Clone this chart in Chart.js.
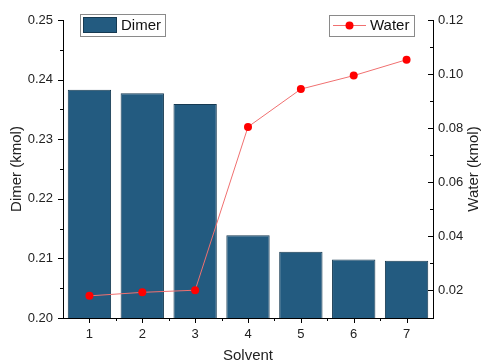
<!DOCTYPE html>
<html>
<head>
<meta charset="utf-8">
<script src="https://cdn.jsdelivr.net/npm/chart.js@4.4.1/dist/chart.umd.min.js"></script>
<style>
html,body{margin:0;padding:0;background:#fff;}
#wrap{width:483px;height:364px;position:relative;}
</style>
</head>
<body>
<div id="wrap"><canvas id="c" width="483" height="364"></canvas></div>
<script>
const categories = ['1','2','3','4','5','6','7'];
const dimer = [0.2383, 0.2377, 0.2359, 0.2139, 0.2111, 0.2098, 0.2096];
const water = [0.0178, 0.0191, 0.0199, 0.0804, 0.0944, 0.0994, 0.1053];
const leftTicks = [0.20, 0.21, 0.22, 0.23, 0.24, 0.25];
const rightTicks = [0.02, 0.04, 0.06, 0.08, 0.10, 0.12];

const FONT = '"Liberation Sans", Arial, sans-serif';
const BAR = '#235b80';
const BAR_EDGE = '#163a52';

function seg(ctx, x1, y1, x2, y2){ ctx.beginPath(); ctx.moveTo(x1,y1); ctx.lineTo(x2,y2); ctx.stroke(); }

const decor = {
  id: 'decor',
  afterDraw(chart){
    const ctx = chart.ctx, a = chart.chartArea;
    const {x, y, y1} = chart.scales;
    ctx.save();
    ctx.strokeStyle = '#000'; ctx.lineWidth = 1;
    // left ticks (outward)
    for (let i = 0; i < leftTicks.length; i++){
      const py = Math.round(y.getPixelForValue(leftTicks[i])) + 0.5;
      seg(ctx, a.left - 5, py, a.left, py);
      if (i < leftTicks.length - 1){
        const pm = Math.round(y.getPixelForValue((leftTicks[i] + leftTicks[i+1]) / 2)) + 0.5;
        seg(ctx, a.left - 3, pm, a.left, pm);
      }
    }
    // right ticks (inward)
    for (let i = 0; i < rightTicks.length; i++){
      const py = Math.round(y1.getPixelForValue(rightTicks[i])) + 0.5;
      seg(ctx, a.right - 5, py, a.right, py);
    }
    for (let i = 0; i < rightTicks.length - 1; i++){
      const pm = Math.round(y1.getPixelForValue((rightTicks[i] + rightTicks[i+1]) / 2)) + 0.5;
      seg(ctx, a.right - 3, pm, a.right, pm);
    }
    // bottom ticks (outward)
    for (let i = 0; i < categories.length; i++){
      const px = Math.round(x.getPixelForValue(i)) + 0.5;
      seg(ctx, px, a.bottom, px, a.bottom + 5);
      if (i < categories.length - 1){
        const pm = Math.round(x.getPixelForValue(i + 0.5)) + 0.5;
        seg(ctx, pm, a.bottom, pm, a.bottom + 3);
      }
    }
    // axis titles
    ctx.fillStyle = '#222';
    ctx.font = '15px ' + FONT;
    ctx.textAlign = 'center'; ctx.textBaseline = 'middle';
    ctx.fillText('Solvent', (a.left + a.right) / 2, 356);
    ctx.save(); ctx.translate(17, (a.top + a.bottom) / 2); ctx.rotate(-Math.PI/2);
    ctx.fillText('Dimer (kmol)', 0, 0); ctx.restore();
    ctx.save(); ctx.translate(474, (a.top + a.bottom) / 2); ctx.rotate(-Math.PI/2);
    ctx.fillText('Water (kmol)', 0, 0); ctx.restore();

    // legends
    ctx.lineWidth = 1;
    ctx.strokeStyle = '#8a8a8a';
    ctx.fillStyle = '#fff';
    // Dimer
    ctx.fillRect(80, 14, 85, 22);
    ctx.strokeRect(80.5, 14.5, 85, 22);
    ctx.fillStyle = BAR; ctx.fillRect(83, 17, 34, 16);
    ctx.strokeStyle = BAR_EDGE; ctx.strokeRect(83.5, 17.5, 33, 15);
    ctx.fillStyle = '#111'; ctx.textAlign = 'left';
    ctx.font = '15px ' + FONT;
    ctx.fillText('Dimer', 121, 26);
    // Water
    ctx.strokeStyle = '#8a8a8a'; ctx.fillStyle = '#fff';
    ctx.fillRect(329, 15, 85, 21);
    ctx.strokeRect(329.5, 15.5, 85, 21);
    ctx.strokeStyle = '#f07070'; ctx.lineWidth = 1;
    seg(ctx, 333, 25.5, 366, 25.5);
    ctx.fillStyle = '#ff0000';
    ctx.beginPath(); ctx.arc(349.5, 25.5, 4, 0, Math.PI*2); ctx.fill();
    ctx.fillStyle = '#111';
    ctx.fillText('Water', 370, 26);
    ctx.restore();
  }
};

new Chart(document.getElementById('c'), {
  data: {
    labels: categories,
    datasets: [
      {
        type: 'line', label: 'Water', data: water, yAxisID: 'y1', xAxisID: 'x',
        borderColor: '#f07070', borderWidth: 1, backgroundColor: '#ff0000',
        pointBackgroundColor: '#ff0000', pointBorderColor: '#ff0000',
        pointRadius: 4, pointBorderWidth: 0, tension: 0, order: 0
      },
      {
        type: 'bar', label: 'Dimer', data: dimer, yAxisID: 'y', xAxisID: 'x',
        backgroundColor: BAR, borderColor: BAR_EDGE, borderWidth: 1,
        categoryPercentage: 1, barPercentage: 0.82, order: 1
      }
    ]
  },
  options: {
    responsive: false, animation: false,
    layout: { padding: { top: 20, left: 0, right: 0, bottom: 0 } },
    plugins: { legend: { display: false }, tooltip: { enabled: false } },
    scales: {
      x: {
        type: 'category', offset: true,
        grid: { display: false, drawTicks: false },
        border: { display: true, color: '#000', width: 1 },
        ticks: { color: '#222', font: { family: FONT, size: 13 }, padding: 9, maxRotation: 0 },
        afterFit: s => { s.height = 46; }
      },
      y: {
        position: 'left', min: 0.20, max: 0.25,
        grid: { display: false, drawTicks: false },
        border: { display: true, color: '#000', width: 1 },
        afterBuildTicks: s => { s.ticks = leftTicks.map(v => ({ value: v })); },
        ticks: { color: '#222', font: { family: FONT, size: 13 }, padding: 10,
                 callback: v => v.toFixed(2) },
        afterFit: s => { s.width = 63; }
      },
      y1: {
        position: 'right', min: 0.0096, max: 0.12,
        grid: { display: false, drawTicks: false },
        border: { display: true, color: '#000', width: 1 },
        afterBuildTicks: s => { s.ticks = rightTicks.map(v => ({ value: v })); },
        ticks: { color: '#222', font: { family: FONT, size: 13 }, padding: 5,
                 callback: v => v.toFixed(2) },
        afterFit: s => { s.width = 50; }
      }
    }
  },
  plugins: [decor]
});
</script>
</body>
</html>
